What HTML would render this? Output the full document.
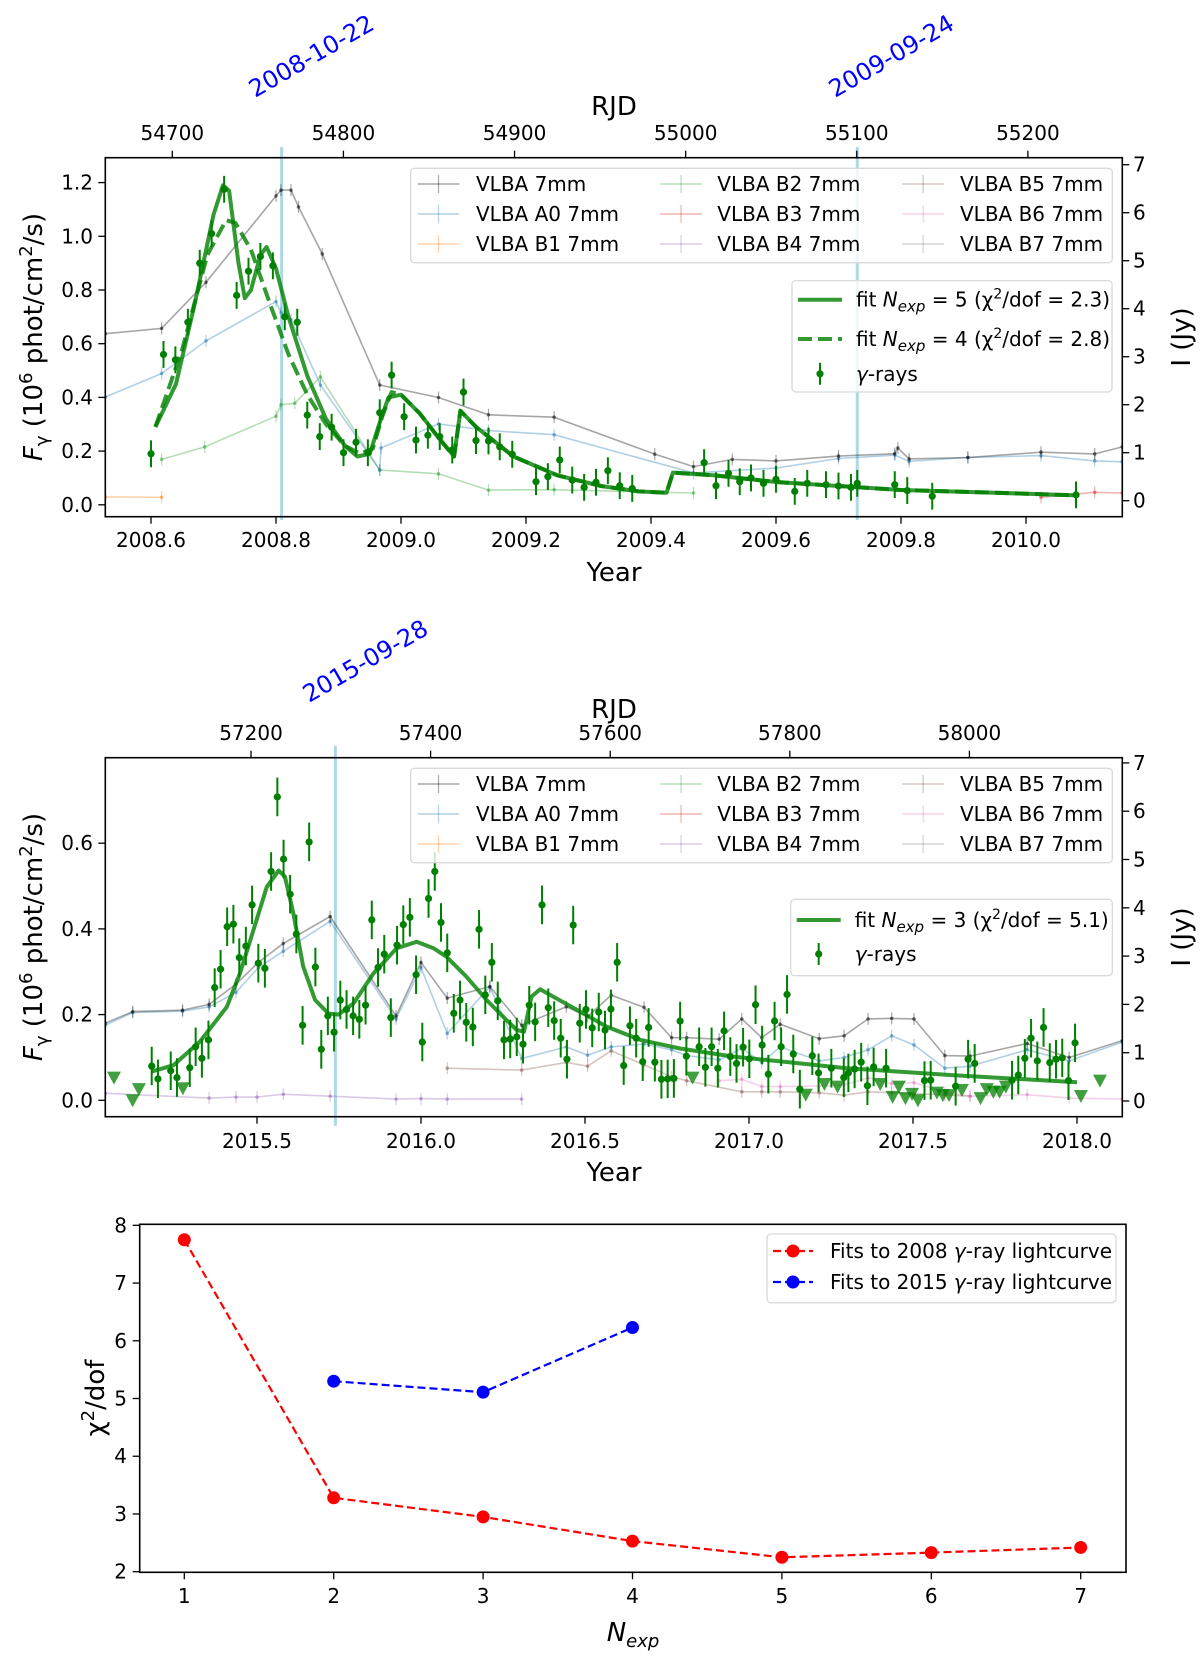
<!DOCTYPE html>
<html><head><meta charset="utf-8">
<style>
html,body{margin:0;padding:0;background:#fff;}
svg{display:block;font-family:"DejaVu Sans","Liberation Sans",sans-serif;}
</style></head>
<body>
<svg id="fig" width="1200" height="1659" viewBox="0 0 1200 1659">
<defs>
<clipPath id="c1"><rect x="105.3" y="157.7" width="1017" height="359"/></clipPath>
<clipPath id="c2"><rect x="105.3" y="757.7" width="1017" height="359"/></clipPath>
<clipPath id="c3"><rect x="139.7" y="1224.3" width="986.3" height="348"/></clipPath>
</defs>
<g id="p1"></g>
<g id="p2"></g>
<g id="p3"></g>

<!-- static labels -->
<text x="614" y="115" font-size="26" text-anchor="middle">RJD</text>
<text x="614" y="581" font-size="26" text-anchor="middle">Year</text>
<text transform="translate(42,337) rotate(-90)" font-size="26" text-anchor="middle"><tspan font-style="italic">F</tspan><tspan font-size="18" dy="6">γ</tspan><tspan dy="-6"> (10</tspan><tspan font-size="18" dy="-10">6</tspan><tspan dy="10"> phot/cm</tspan><tspan font-size="18" dy="-10">2</tspan><tspan dy="10">/s)</tspan></text>
<text transform="translate(1190,337) rotate(-90)" font-size="26" text-anchor="middle">I (Jy)</text>
<text transform="translate(255,98) rotate(-30)" font-size="24" fill="#0000ff">2008-10-22</text>
<text transform="translate(835,98) rotate(-30)" font-size="24" fill="#0000ff">2009-09-24</text>

<text x="614" y="718" font-size="26" text-anchor="middle">RJD</text>
<text x="614" y="1181" font-size="26" text-anchor="middle">Year</text>
<text transform="translate(42,937) rotate(-90)" font-size="26" text-anchor="middle"><tspan font-style="italic">F</tspan><tspan font-size="18" dy="6">γ</tspan><tspan dy="-6"> (10</tspan><tspan font-size="18" dy="-10">6</tspan><tspan dy="10"> phot/cm</tspan><tspan font-size="18" dy="-10">2</tspan><tspan dy="10">/s)</tspan></text>
<text transform="translate(1190,937) rotate(-90)" font-size="26" text-anchor="middle">I (Jy)</text>
<text transform="translate(309,703) rotate(-30)" font-size="24" fill="#0000ff">2015-09-28</text>

<text x="633" y="1641" font-size="26" text-anchor="middle" font-style="italic">N<tspan font-size="18" dy="6">exp</tspan></text>
<text transform="translate(104,1398) rotate(-90)" font-size="26" text-anchor="middle">χ<tspan font-size="18" dy="-10">2</tspan><tspan dy="10">/dof</tspan></text>
</svg>

<script>
// ---------- DATA: panel 1 (2008) ----------
const g1Year=[2008.6,2008.62,2008.639,2008.659,2008.678,2008.697,2008.717,2008.737,2008.756,2008.775,2008.795,2008.814,2008.834,2008.850,2008.870,2008.889,2008.908,2008.928,2008.947,2008.966,2008.985,2009.005,2009.024,2009.043,2009.062,2009.082,2009.10,2009.12,2009.14,2009.158,2009.178,2009.216,2009.235,2009.254,2009.274,2009.293,2009.312,2009.331,2009.35,2009.37,2009.485,2009.504,2009.524,2009.542,2009.56,2009.58,2009.60,2009.63,2009.65,2009.68,2009.70,2009.72,2009.73,2009.79,2009.81,2009.85,2010.08];
const g1Flux=[0.19,0.56,0.54,0.68,0.90,1.01,1.175,0.78,0.87,0.925,0.89,0.70,0.68,0.334,0.254,0.289,0.194,0.233,0.194,0.343,0.483,0.328,0.241,0.259,0.254,0.204,0.42,0.239,0.238,0.216,0.188,0.086,0.105,0.167,0.092,0.065,0.084,0.127,0.071,0.061,0.157,0.071,0.117,0.086,0.10,0.08,0.095,0.05,0.08,0.075,0.07,0.065,0.08,0.075,0.053,0.032,0.037];
const g1Err=0.05;
const fit5Year=[2008.607,2008.64,2008.67,2008.70,2008.715,2008.725,2008.74,2008.75,2008.76,2008.775,2008.785,2008.80,2008.82,2008.85,2008.88,2008.91,2008.93,2008.95,2008.965,2008.98,2009.0,2009.03,2009.06,2009.085,2009.095,2009.12,2009.18,2009.25,2009.32,2009.38,2009.425,2009.435,2009.5,2009.6,2009.7,2009.8,2009.95,2010.08];
const fit5Flux=[0.29,0.45,0.75,1.08,1.19,1.17,0.90,0.77,0.80,0.93,0.96,0.88,0.70,0.48,0.32,0.22,0.18,0.19,0.30,0.40,0.41,0.34,0.25,0.18,0.35,0.29,0.18,0.11,0.07,0.05,0.045,0.12,0.11,0.085,0.07,0.055,0.045,0.035];
const fit4Year=[2008.607,2008.65,2008.69,2008.72,2008.735,2008.76,2008.79,2008.82,2008.85,2008.88,2008.91,2008.935,2008.955,2008.97,2008.985,2009.0,2009.03,2009.06,2009.085,2009.095,2009.12,2009.18,2009.25,2009.32,2009.38,2009.425,2009.435,2009.5,2009.6,2009.7,2009.8,2009.95,2010.08];
const fit4Flux=[0.29,0.58,0.93,1.06,1.05,0.95,0.75,0.56,0.41,0.30,0.22,0.19,0.21,0.33,0.42,0.41,0.34,0.25,0.18,0.35,0.29,0.18,0.11,0.07,0.05,0.045,0.12,0.11,0.085,0.07,0.055,0.045,0.035];
const v1GrayYear=[2008.527,2008.617,2008.688,2008.80,2008.808,2008.824,2008.836,2008.874,2008.966,2009.06,2009.14,2009.245,2009.406,2009.468,2009.53,2009.6,2009.7,2009.79,2009.795,2009.813,2009.907,2010.024,2010.11,2010.154];
const v1GrayJy=[3.48,3.59,4.55,6.35,6.47,6.47,6.12,5.14,2.41,2.15,1.79,1.74,0.97,0.71,0.86,0.83,0.93,0.98,1.10,0.87,0.90,1.01,0.975,1.12];
const v1BlueYear=[2008.527,2008.617,2008.688,2008.80,2008.808,2008.824,2008.871,2008.966,2008.968,2009.06,2009.14,2009.245,2009.468,2009.6,2009.7,2009.79,2009.813,2009.907,2010.024,2010.11,2010.154];
const v1BlueJy=[2.16,2.65,3.33,4.15,3.92,3.77,2.41,0.64,1.10,1.60,1.46,1.375,0.58,0.68,0.88,0.95,0.82,0.90,0.94,0.83,0.81];
const v1GreenYear=[2008.617,2008.686,2008.80,2008.808,2008.83,2008.871,2008.966,2009.06,2009.14,2009.245,2009.468];
const v1GreenJy=[0.86,1.12,1.76,2.0,2.03,2.58,0.64,0.56,0.22,0.23,0.16];
const v1OrangeYear=[2008.527,2008.617];
const v1OrangeJy=[0.08,0.07];
const v1RedYear=[2010.024,2010.11,2010.154];
const v1RedJy=[0.07,0.175,0.16];
const vline1Year=[2008.809,2009.73];

// ---------- DATA: panel 2 (2015) ----------
const g2Year=[2015.179,2015.198,2015.237,2015.256,2015.295,2015.313,2015.332,2015.352,2015.371,2015.389,2015.409,2015.428,2015.446,2015.466,2015.485,2015.504,2015.524,2015.543,2015.562,2015.581,2015.601,2015.62,2015.639,2015.659,2015.678,2015.696,2015.716,2015.735,2015.754,2015.773,2015.793,2015.812,2015.831,2015.85,2015.869,2015.888,2015.908,2015.927,2015.946,2015.966,2015.985,2016.004,2016.023,2016.042,2016.061,2016.08,2016.1,2016.119,2016.138,2016.158,2016.177,2016.196,2016.216,2016.234,2016.253,2016.272,2016.292,2016.311,2016.33,2016.348,2016.369,2016.388,2016.406,2016.426,2016.445,2016.464,2016.484,2016.503,2016.522,2016.542,2016.561,2016.579,2016.598,2016.618,2016.637,2016.656,2016.676,2016.694,2016.713,2016.733,2016.752,2016.771,2016.79,2016.809,2016.848,2016.867,2016.886,2016.905,2016.924,2016.943,2016.962,2016.982,2017.001,2017.02,2017.04,2017.059,2017.078,2017.098,2017.116,2017.135,2017.155,2017.193,2017.212,2017.251,2017.289,2017.303,2017.322,2017.342,2017.361,2017.38,2017.418,2017.535,2017.554,2017.63,2017.668,2017.688,2017.802,2017.821,2017.841,2017.86,2017.879,2017.898,2017.917,2017.936,2017.955,2017.974,2017.994];
const g2Flux=[0.080,0.050,0.069,0.053,0.076,0.125,0.098,0.141,0.263,0.306,0.405,0.411,0.333,0.36,0.456,0.32,0.308,0.534,0.708,0.563,0.481,0.388,0.175,0.603,0.311,0.119,0.197,0.159,0.234,0.212,0.197,0.189,0.222,0.421,0.31,0.341,0.193,0.362,0.41,0.427,0.293,0.136,0.471,0.534,0.415,0.344,0.203,0.234,0.182,0.171,0.399,0.246,0.322,0.232,0.141,0.143,0.148,0.131,0.222,0.183,0.456,0.216,0.186,0.145,0.096,0.409,0.18,0.212,0.169,0.206,0.164,0.213,0.322,0.081,0.174,0.145,0.09,0.17,0.089,0.049,0.05,0.051,0.185,0.103,0.125,0.077,0.125,0.075,0.162,0.102,0.086,0.124,0.097,0.223,0.129,0.061,0.185,0.125,0.247,0.108,0.026,0.104,0.064,0.075,0.053,0.064,0.073,0.089,0.034,0.078,0.075,0.046,0.047,0.033,0.096,0.086,0.047,0.059,0.098,0.145,0.092,0.17,0.088,0.096,0.099,0.046,0.134];
const g2Err=0.045;
const ul2Year=[2015.064,2015.121,2015.14,2015.274,2016.828,2017.173,2017.23,2017.27,2017.4,2017.438,2017.457,2017.477,2017.497,2017.515,2017.573,2017.591,2017.61,2017.649,2017.706,2017.725,2017.745,2017.764,2017.783,2018.012,2018.07];
const ul2Flux=[0.053,0.0,0.026,0.028,0.053,0.013,0.038,0.032,0.038,0.008,0.032,0.005,0.015,0.0,0.018,0.012,0.012,0.024,0.005,0.026,0.02,0.02,0.032,0.01,0.046];
const fit3Year=[2015.179,2015.245,2015.326,2015.408,2015.448,2015.489,2015.53,2015.566,2015.585,2015.611,2015.641,2015.677,2015.717,2015.748,2015.794,2015.855,2015.926,2015.987,2016.038,2016.078,2016.139,2016.2,2016.261,2016.292,2016.314,2016.337,2016.363,2016.403,2016.485,2016.566,2016.669,2016.79,2016.952,2017.155,2017.298,2017.613,2018.0];
const fit3Flux=[0.067,0.082,0.137,0.218,0.296,0.397,0.498,0.536,0.522,0.436,0.312,0.234,0.203,0.2,0.226,0.296,0.355,0.37,0.355,0.335,0.288,0.234,0.187,0.164,0.16,0.242,0.259,0.242,0.207,0.172,0.141,0.121,0.102,0.086,0.075,0.059,0.042];
const v2GrayYear=[2015.0375,2015.121,2015.273,2015.354,2015.436,2015.504,2015.58,2015.723,2015.924,2016.0,2016.08,2016.21,2016.307,2016.443,2016.508,2016.58,2016.68,2016.764,2016.81,2016.909,2016.978,2017.039,2017.095,2017.214,2017.29,2017.363,2017.435,2017.503,2017.597,2017.674,2017.848,2017.976,2018.138];
const v2GrayJy=[1.61,1.85,1.88,2.0,2.42,2.87,3.26,3.82,1.76,2.87,2.13,2.37,1.57,1.95,1.75,2.19,1.94,1.31,1.31,1.28,1.70,1.31,1.59,1.29,1.35,1.70,1.71,1.70,0.94,0.93,1.19,0.90,1.25];
const v2BlueYear=[2015.0375,2015.121,2015.273,2015.354,2015.436,2015.504,2015.58,2015.723,2015.924,2016.0,2016.08,2016.21,2016.307,2016.443,2016.508,2016.58,2016.68,2016.764,2016.81,2016.909,2016.978,2017.039,2017.095,2017.214,2017.29,2017.363,2017.435,2017.503,2017.597,2017.674,2017.848,2017.976,2018.138];
const v2BlueJy=[1.57,1.83,1.86,1.95,2.25,2.76,3.10,3.72,1.70,2.76,1.40,2.36,0.88,1.12,0.95,1.12,1.18,1.06,0.94,0.85,1.09,0.80,1.12,0.83,0.90,1.06,1.35,1.16,0.68,0.72,1.06,0.83,1.22];
const v2PurpleYear=[2015.0375,2015.354,2015.436,2015.5,2015.58,2015.723,2015.924,2016.0,2016.08,2016.307];
const v2PurpleJy=[0.16,0.06,0.08,0.08,0.14,0.10,0.04,0.05,0.04,0.04];
const v2BrownYear=[2016.08,2016.307,2016.443,2016.508,2016.58,2016.68,2016.764,2016.81,2016.978,2017.039,2017.095,2017.214,2017.29,2017.363,2017.435,2017.503,2017.597,2017.674];
const v2BrownJy=[0.68,0.64,0.80,0.72,1.04,0.75,0.50,0.42,0.19,0.19,0.19,0.17,0.12,0.19,0.17,0.15,0.13,0.10];
const v2PinkYear=[2016.909,2016.978,2017.039,2017.095,2017.214,2017.29,2017.363,2017.435,2017.503,2017.597,2017.674,2017.848,2017.976,2018.138];
const v2PinkJy=[0.42,0.45,0.30,0.30,0.31,0.33,0.48,0.36,0.38,0.18,0.10,0.13,0.06,0.04];
const vline2Year=[2015.739];

// ---------- DATA: panel 3 ----------
const nexp2008=[1,2,3,4,5,6,7];
const chi2008=[7.75,3.28,2.95,2.53,2.25,2.33,2.42];
const nexp2015=[2,3,4];
const chi2015=[5.30,5.11,6.23];

// ---------- ticks ----------
const p1YearTicks=[2008.6,2008.8,2009.0,2009.2,2009.4,2009.6,2009.8,2010.0];
const p1YearLabels=["2008.6","2008.8","2009.0","2009.2","2009.4","2009.6","2009.8","2010.0"];
const p1RjdTicks=[54700,54800,54900,55000,55100,55200];
const p1FluxTicks=[0,0.2,0.4,0.6,0.8,1.0,1.2];
const p1FluxLabels=["0.0","0.2","0.4","0.6","0.8","1.0","1.2"];
const jyTicks=[0,1,2,3,4,5,6,7];
const p2YearTicks=[2015.5,2016.0,2016.5,2017.0,2017.5,2018.0];
const p2YearLabels=["2015.5","2016.0","2016.5","2017.0","2017.5","2018.0"];
const p2RjdTicks=[57200,57400,57600,57800,58000];
const p2FluxTicks=[0,0.2,0.4,0.6];
const p2FluxLabels=["0.0","0.2","0.4","0.6"];
const p3XTicks=[1,2,3,4,5,6,7];
const p3YTicks=[2,3,4,5,6,7,8];

// ---------- scales ----------
const P1={x0:105.3,x1:1122.3,y0:157.7,y1:516.7,
  x:y=>151+(y-2008.6)*625, yl:f=>504.8-f*268.5, yr:j=>500.7-j*48, rjd:r=>172.3+(r-54700)*625/365.25};
const P2={x0:105.3,x1:1122.3,y0:757.7,y1:1116.7,
  x:y=>257+(y-2015.5)*328, yl:f=>1100.3-f*428.5, yr:j=>1101-j*48.3, rjd:r=>251+(r-57200)*328/365.25};
const P3={x0:139.7,x1:1126,y0:1224.3,y1:1572.3,
  x:n=>184.3+(n-1)*149.4, yl:v=>1571.7-(v-2)*57.73};

const NS="http://www.w3.org/2000/svg";
function el(tag,parent){const e=document.createElementNS(NS,tag);parent.appendChild(e);return e;}
function at(e,o){for(const k in o)e.setAttribute(k,o[k]);return e;}

function frame(g,P){
  const r=at(el('rect',g),{x:P.x0,y:P.y0,width:P.x1-P.x0,height:P.y1-P.y0,fill:'none',stroke:'#000','stroke-width':1.6});
  
  
}
function xTicks(g,vals,labels,fx,yBase,dir,labelY,name){
  vals.forEach((v,i)=>{
    const X=fx(v);
    const t=at(el('line',g),{x1:X,x2:X,y1:yBase,y2:yBase+dir*7,stroke:'#000','stroke-width':1.3});
    
    
    const s=at(el('text',g),{x:X,y:labelY,'font-size':20,'text-anchor':'middle'});
    s.textContent=labels[i];
    
    
  });
}
function yTicks(g,vals,labels,fy,xBase,dir,labelX,anchor,name){
  vals.forEach((v,i)=>{
    const Y=fy(v);
    const t=at(el('line',g),{x1:xBase,x2:xBase+dir*7,y1:Y,y2:Y,stroke:'#000','stroke-width':1.3});
    
    
    const s=at(el('text',g),{x:labelX,y:Y+7,'font-size':20,'text-anchor':anchor});
    s.textContent=labels[i];
    
    
  });
}
function vlbaLine(g,P,xs,ys,color,name){
  const pts=xs.map((x,i)=>P.x(x).toFixed(1)+','+P.yr(ys[i]).toFixed(1)).join(' ');
  const pl=at(el('polyline',g),{points:pts,fill:'none',stroke:color,'stroke-opacity':0.35,'stroke-width':1.6});
  
  
  xs.forEach((x,i)=>{
    const X=P.x(x),Y=P.yr(ys[i]);
    const e=at(el('line',g),{x1:X,x2:X,y1:Y-6,y2:Y+6,stroke:color,'stroke-opacity':0.35,'stroke-width':1.2});
    
    
    const c=at(el('circle',g),{cx:X,cy:Y,r:1.8,fill:color,'fill-opacity':0.5});
    
    
  });
}
function fitLine(g,P,xs,ys,dash,name){
  const pts=xs.map((x,i)=>P.x(x).toFixed(1)+','+P.yl(ys[i]).toFixed(1)).join(' ');
  const pl=at(el('polyline',g),{points:pts,fill:'none',stroke:'#008000','stroke-opacity':0.8,'stroke-width':4,'stroke-linejoin':'round'});
  if(dash)pl.setAttribute('stroke-dasharray','14,6');
  
  
}
function gammaPts(g,P,xs,ys,err){
  xs.forEach((x,i)=>{
    const X=P.x(x),Y=P.yl(ys[i]),d=err*(P.yl(0)-P.yl(1));
    const e=at(el('line',g),{x1:X,x2:X,y1:Y-d,y2:Y+d,stroke:'#008000','stroke-width':2});
    
    
    const c=at(el('circle',g),{cx:X,cy:Y,r:3.6,fill:'#008000'});
    
    
  });
}
function ulPts(g,P,xs,ys){
  xs.forEach((x,i)=>{
    const X=P.x(x),Y=P.yl(ys[i]);
    const t=at(el('polygon',g),{points:(X-7)+','+(Y-6)+' '+(X+7)+','+(Y-6)+' '+X+','+(Y+7),fill:'#008000','fill-opacity':0.75});
    
    
  });
}
function vlines(g,P,xs,ytop,ybot){
  xs.forEach(x=>{
    const l=at(el('line',g),{x1:P.x(x),x2:P.x(x),y1:ytop,y2:ybot,stroke:'#add8e6','stroke-width':3});
    
    
  });
}
const legendNames=[["VLBA 7mm","#000000"],["VLBA A0 7mm","#1f77b4"],["VLBA B1 7mm","#ff7f0e"],["VLBA B2 7mm","#2ca02c"],["VLBA B3 7mm","#d62728"],["VLBA B4 7mm","#9467bd"],["VLBA B5 7mm","#8c564b"],["VLBA B6 7mm","#e377c2"],["VLBA B7 7mm","#7f7f7f"]];
function vlbaLegend(g,top){
  const b=at(el('rect',g),{x:410.7,y:top,width:701.6,height:94.4,rx:4,fill:'#fff','fill-opacity':0.8,stroke:'#d9d9d9','stroke-width':1.3});
  
  
  const cols=[[417.7,459.3,476],[660,702,717.3],[902.3,944,960]];
  legendNames.forEach((n,i)=>{
    const c=cols[Math.floor(i/3)],Y=top+15.7+30*(i%3),mx=(c[0]+c[1])/2;
    const l=at(el('line',g),{x1:c[0],x2:c[1],y1:Y,y2:Y,stroke:n[1],'stroke-opacity':0.35,'stroke-width':1.6});
    
    
    const e=at(el('line',g),{x1:mx,x2:mx,y1:Y-9,y2:Y+9,stroke:n[1],'stroke-opacity':0.35,'stroke-width':1.2});
    
    
    const t=at(el('text',g),{x:c[2],y:Y+7,'font-size':20});
    t.textContent=n[0];
    
    
  });
}
function fitText(t,n,chi){
  t.innerHTML='fit <tspan font-style="italic">N</tspan><tspan font-style="italic" font-size="15" dy="5">exp</tspan><tspan dy="-5"> = '+n+' (χ</tspan><tspan font-size="14" dy="-8">2</tspan><tspan dy="8">/dof = '+chi+')</tspan>';
}
function fitLegend(g,box,entries){
  const b=at(el('rect',g),{x:box[0],y:box[1],width:box[2],height:box[3],rx:4,fill:'#fff','fill-opacity':0.8,stroke:'#d9d9d9','stroke-width':1.3});
  
  
  const lx0=box[0]+6,lx1=box[0]+50,tx=box[0]+64;
  entries.forEach(en=>{
    const Y=en[1];
    if(en[0]==='g'){
      const mx=(lx0+lx1)/2;
      const e=at(el('line',g),{x1:mx,x2:mx,y1:Y-11,y2:Y+11,stroke:'#008000','stroke-width':2});
      
      
      const c=at(el('circle',g),{cx:mx,cy:Y,r:3.6,fill:'#008000'});
      
      
      const t=at(el('text',g),{x:tx,y:Y+7,'font-size':20});
      t.innerHTML='<tspan font-style="italic">γ</tspan>-rays';
      
      
    } else {
      const l=at(el('line',g),{x1:lx0,x2:lx1,y1:Y,y2:Y,stroke:'#008000','stroke-opacity':0.8,'stroke-width':4});
      if(en[0]==='d')l.setAttribute('stroke-dasharray','14,6');
      
      
      const t=at(el('text',g),{x:tx,y:Y+7,'font-size':20});
      fitText(t,en[2],en[3]);
      
      
    }
  });
}

// ---------- Panel 1 ----------
(function(){
  const g=document.getElementById('p1');
  const P=P1;
  vlines(g,P,vline1Year,147,520);
  const d=el('g',g);d.setAttribute('clip-path','url(#c1)');
  
  
  vlbaLine(d,P,v1OrangeYear,v1OrangeJy,'#ff7f0e','vlba-b1');
  vlbaLine(d,P,v1RedYear,v1RedJy,'#d62728','vlba-b3');
  vlbaLine(d,P,v1GreenYear,v1GreenJy,'#2ca02c','vlba-b2');
  vlbaLine(d,P,v1BlueYear,v1BlueJy,'#1f77b4','vlba-a0');
  vlbaLine(d,P,v1GrayYear,v1GrayJy,'#000000','vlba-7mm');
  fitLine(d,P,fit4Year,fit4Flux,true,'fit-nexp4');
  fitLine(d,P,fit5Year,fit5Flux,false,'fit-nexp5');
  gammaPts(d,P,g1Year,g1Flux,g1Err);
  frame(g,P);
  xTicks(g,p1YearTicks,p1YearLabels,P.x,P.y1,1,547,'year');
  xTicks(g,p1RjdTicks,p1RjdTicks.map(String),P.rjd,P.y0,-1,140,'rjd');
  yTicks(g,p1FluxTicks,p1FluxLabels,P.yl,P.x0,-1,93,'end','flux');
  yTicks(g,jyTicks,jyTicks.map(String),P.yr,P.x1,1,1133,'start','jy');
  vlbaLegend(g,168.3);
  fitLegend(g,[792,280.6,320,111.4],[['s',299.7,5,2.3],['d',339,4,2.8],['g',373.8]]);
})();

// ---------- Panel 2 ----------
(function(){
  const g=document.getElementById('p2');
  const P=P2;
  vlines(g,P,vline2Year,745.7,1125.7);
  const d=el('g',g);d.setAttribute('clip-path','url(#c2)');
  
  
  vlbaLine(d,P,v2PurpleYear,v2PurpleJy,'#9467bd','vlba-b4');
  vlbaLine(d,P,v2BrownYear,v2BrownJy,'#8c564b','vlba-b5');
  vlbaLine(d,P,v2PinkYear,v2PinkJy,'#e377c2','vlba-b6');
  vlbaLine(d,P,v2BlueYear,v2BlueJy,'#1f77b4','vlba-a0');
  vlbaLine(d,P,v2GrayYear,v2GrayJy,'#000000','vlba-7mm');
  fitLine(d,P,fit3Year,fit3Flux,false,'fit-nexp3');
  ulPts(d,P,ul2Year,ul2Flux);
  gammaPts(d,P,g2Year,g2Flux,g2Err);
  frame(g,P);
  xTicks(g,p2YearTicks,p2YearLabels,P.x,P.y1,1,1148,'year');
  xTicks(g,p2RjdTicks,p2RjdTicks.map(String),P.rjd,P.y0,-1,740,'rjd');
  yTicks(g,p2FluxTicks,p2FluxLabels,P.yl,P.x0,-1,93,'end','flux');
  yTicks(g,jyTicks,jyTicks.map(String),P.yr,P.x1,1,1133,'start','jy');
  vlbaLegend(g,768.3);
  fitLegend(g,[790.7,899.3,321.6,76.4],[['s',920,3,5.1],['g',954]]);
})();

// ---------- Panel 3 ----------
(function(){
  const g=document.getElementById('p3');
  const P=P3;
  const d=el('g',g);d.setAttribute('clip-path','url(#c3)');
  
  
  function series(xs,ys,color,name){
    const pts=xs.map((x,i)=>P.x(x).toFixed(1)+','+P.yl(ys[i]).toFixed(1)).join(' ');
    const pl=at(el('polyline',d),{points:pts,fill:'none',stroke:color,'stroke-width':2.2,'stroke-dasharray':'8,4'});
    
    
    xs.forEach((x,i)=>{
      const c=at(el('circle',d),{cx:P.x(x),cy:P.yl(ys[i]),r:6.5,fill:color});
      
      
    });
  }
  series(nexp2008,chi2008,'#ff0000','fits-2008');
  series(nexp2015,chi2015,'#0000ff','fits-2015');
  frame(g,P);
  xTicks(g,p3XTicks,p3XTicks.map(String),P.x,P.y1,1,1603,'nexp');
  yTicks(g,p3YTicks,p3YTicks.map(String),P.yl,P.x0,-1,127,'end','chi2');
  const b=at(el('rect',g),{x:767,y:1234,width:349,height:68.7,rx:4,fill:'#fff','fill-opacity':0.8,stroke:'#d9d9d9','stroke-width':1.3});
  
  
  [['#ff0000','2008',1251],['#0000ff','2015',1282]].forEach(en=>{
    const l=at(el('line',g),{x1:773,x2:813,y1:en[2],y2:en[2],stroke:en[0],'stroke-width':2.2,'stroke-dasharray':'8,4'});
    
    
    const c=at(el('circle',g),{cx:793,cy:en[2],r:6.5,fill:en[0]});
    
    
    const t=at(el('text',g),{x:830,y:en[2]+7,'font-size':20});
    t.innerHTML='Fits to '+en[1]+' <tspan font-style="italic">γ</tspan>-ray lightcurve';
    
    
  });
})();
</script>
</body></html>
